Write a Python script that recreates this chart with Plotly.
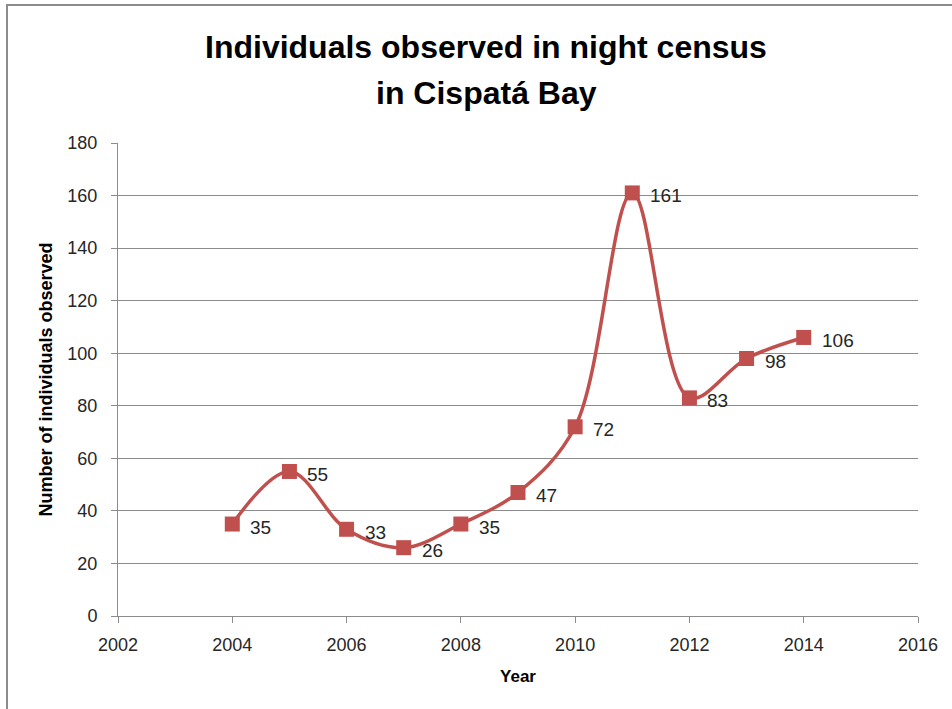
import plotly.graph_objects as go

years = [2004, 2005, 2006, 2007, 2008, 2009, 2010, 2011, 2012, 2013, 2014]
counts = [35, 55, 33, 26, 35, 47, 72, 161, 83, 98, 106]
x_ticks = [2002, 2004, 2006, 2008, 2010, 2012, 2014, 2016]
y_ticks = [0, 20, 40, 60, 80, 100, 120, 140, 160, 180]
title_lines = ["Individuals observed in night census", "in Cispatá Bay"]

W, H = 952, 709
ML, MR, MT, MB = 118, 34, 143, 93
PW, PH = W - ML - MR, H - MT - MB

FONT = "Liberation Sans, Arial, sans-serif"
RED = "#C0504D"
GRID = "#8C8C8C"
TXT = "#262626"

fig = go.Figure()
fig.add_trace(go.Scatter(
    x=years, y=counts,
    mode="lines+markers",
    line=dict(color=RED, width=3.5, shape="spline", smoothing=1.0),
    marker=dict(symbol="square", size=15, color=RED),
    showlegend=False,
))

def px_to_paper_x(px):
    return (px - ML) / PW

def px_to_paper_y(py):
    return (H - MB - py) / PH

annotations = []
for yr, v in zip(years, counts):
    annotations.append(dict(x=yr, y=v, xref="x", yref="y", text=str(v),
                            showarrow=False, xanchor="left", yanchor="middle",
                            xshift=16, yshift=-3,
                            font=dict(family=FONT, size=19, color=TXT)))
for i, (line, cy) in enumerate(zip(title_lines, [47, 93])):
    annotations.append(dict(x=px_to_paper_x(486), y=px_to_paper_y(cy), xref="paper", yref="paper",
                            text="<b>" + line + "</b>", showarrow=False,
                            xanchor="center", yanchor="middle",
                            font=dict(family=FONT, size=32, color="black")))

fig.add_shape(type="rect", xref="paper", yref="paper",
              x0=px_to_paper_x(7), x1=px_to_paper_x(W + 5),
              y0=px_to_paper_y(H + 5), y1=px_to_paper_y(5),
              line=dict(color="#8C8C8C", width=2), fillcolor="rgba(0,0,0,0)",
              layer="below")

fig.update_layout(
    width=W, height=H,
    margin=dict(l=ML, r=MR, t=MT, b=MB),
    paper_bgcolor="white", plot_bgcolor="white",
    annotations=annotations,
    xaxis=dict(range=[2002, 2016], tickvals=x_ticks, ticktext=[str(t) for t in x_ticks],
               showgrid=False, zeroline=False,
               showline=True, linecolor=GRID, linewidth=1,
               ticks="outside", ticklen=6, tickcolor=GRID,
               ticklabelstandoff=6,
               tickfont=dict(family=FONT, size=18, color=TXT),
               title=dict(text="<b>Year</b>", font=dict(family=FONT, size=17, color="black"),
                          standoff=16)),
    yaxis=dict(range=[0, 180], tickvals=y_ticks, ticktext=[str(t) for t in y_ticks],
               showgrid=True, gridcolor=GRID, gridwidth=1, zeroline=False,
               showline=True, linecolor=GRID, linewidth=1,
               ticks="outside", ticklen=6, tickcolor=GRID,
               ticklabelstandoff=10,
               tickfont=dict(family=FONT, size=18, color=TXT),
               title=dict(text="<b>Number of individuals observed</b>",
                          font=dict(family=FONT, size=18, color="black"), standoff=10)),
)

fig.write_html("out.html")
